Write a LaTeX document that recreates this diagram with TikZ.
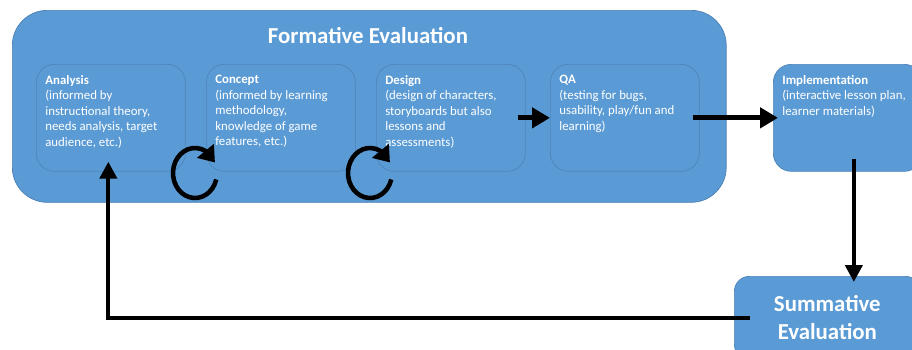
\documentclass[tikz,border=0pt]{standalone}
\usepackage{fontspec}
\setmainfont{Carlito}
\usetikzlibrary{arrows.meta,bending}

\definecolor{boxblue}{HTML}{5B9BD5}
\definecolor{outerline}{HTML}{4A7EB4}
\definecolor{innerline}{HTML}{4E84BA}

% text of one stage box: bold title, then the description
\newcommand{\stagetext}[2]{\parbox[t][1.7cm][t]{2.62cm}{\raggedright\textbf{#1}\\#2}}

\begin{document}
\begin{tikzpicture}[x=0.02cm, y=-0.02cm,
    outer/.style={draw=outerline, fill=boxblue, rounded corners=0.7cm, anchor=north west,
        minimum width=14.28cm, minimum height=3.84cm, inner sep=0pt},
    stage/.style={draw=innerline, fill=boxblue, rounded corners=0.36cm, anchor=north west,
        inner xsep=0.18cm, inner ysep=0.22cm, minimum width=2.98cm, minimum height=2.14cm,
        text=white, font=\fontsize{7.3}{8.8}\selectfont},
    title/.style={text=white, font=\fontsize{13}{15}\selectfont\bfseries},
    flow/.style={line width=2.8pt, -{Triangle[length=0.36cm, width=0.4cm]}},
    back/.style={line width=2.4pt, -{Triangle[length=0.34cm, width=0.34cm]}},
    loop/.style={line width=2.6pt, -{Triangle[length=0.3cm, width=0.42cm, flex]}}]

    \useasboundingbox (0,0) rectangle (912,349);

    % the big formative evaluation box
    \node[outer] (formative) at (12,10) {};
    \node[title] (ftitle) at (368,36) {Formative Evaluation};

    % the four stages inside it
    \node[stage] (analysis) at (36,64) {\stagetext{Analysis}{(informed by\\instructional theory,\\needs analysis, target\\audience, etc.)}};
    \node[stage] (concept) at (206,64) {\stagetext{Concept}{(informed by learning\\methodology,\\knowledge of game\\features, etc.)}};
    \node[stage] (design) at (376,64) {\stagetext{Design}{(design of characters,\\storyboards but also\\lessons and\\assessments)}};
    \node[stage] (qa) at (550,64) {\stagetext{QA}{(testing for bugs,\\usability, play/fun and\\learning)}};

    % implementation and summative evaluation
    \node[stage, minimum width=2.76cm] (impl) at (773,64) {\stagetext{Implementation}{(interactive lesson plan,\\learner materials)}};
    \node[draw=innerline, fill=boxblue, rounded corners=0.3cm, anchor=north west,
        minimum width=3.72cm, minimum height=1.66cm, align=center, title,
        font=\fontsize{13}{16}\selectfont\bfseries] (summ) at (734,276) {Summative\\Evaluation};

    % iteration loops between the stages
    \coordinate (loopA) at (195,173);
    \coordinate (loopB) at (370,173);
    \foreach \c in {loopA,loopB}{
        \draw[loop] ([shift={(-15:0.44cm and 0.5cm)}]\c)
            arc[start angle=-15, end angle=-335, x radius=0.44cm, y radius=0.5cm];
    }

    % connectors
    \draw[flow] ([xshift=-0.16cm]design.east) -- (qa.west);
    \draw[flow] ([xshift=-0.14cm]qa.east) -- ([xshift=0.1cm]impl.west);
    \draw[back] ([xshift=0.12cm, yshift=0.26cm]impl.south) -- ([xshift=0.12cm, yshift=-0.12cm]impl.south |- summ.north);
    \draw[back] ([xshift=0.32cm]summ.west) -| ([xshift=-0.05cm, yshift=0.2cm]analysis.south);

\end{tikzpicture}
\end{document}
